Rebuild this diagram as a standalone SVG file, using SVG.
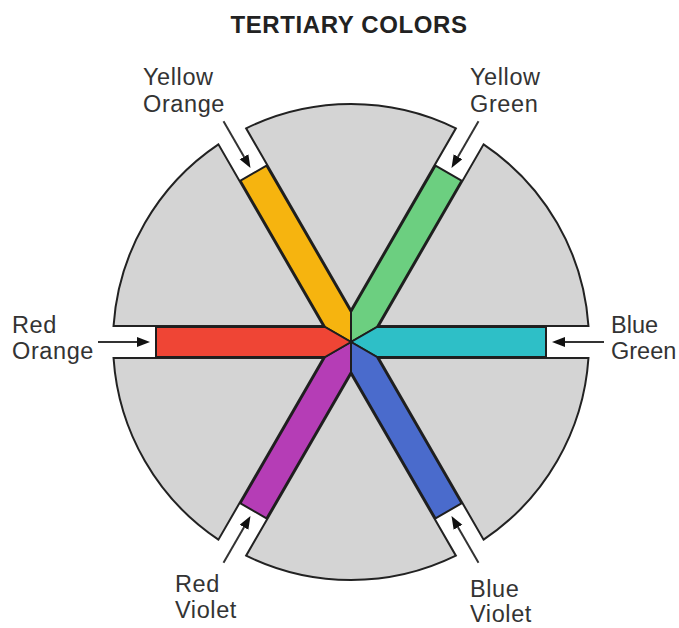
<svg xmlns="http://www.w3.org/2000/svg" width="679" height="628" viewBox="0 0 679 628">
<defs>
<style>
.sector{fill:#d4d4d4;stroke:#222;stroke-width:2;stroke-linejoin:miter}
.bar{stroke:#1e1e1e;stroke-width:2;stroke-linejoin:miter}
.arrow{stroke:#333;stroke-width:2;fill:none;marker-end:url(#ah)}
.lbl{font-family:"Liberation Sans",Arial,sans-serif;font-size:23.5px;letter-spacing:0.6px;fill:#333}
.title{font-family:"Liberation Sans",Arial,sans-serif;font-size:24px;letter-spacing:0.6px;font-weight:bold;fill:#222}
</style>
<marker id="ah" markerUnits="userSpaceOnUse" markerWidth="14" markerHeight="12" refX="0" refY="5" orient="auto">
<path d="M0,0 L13,5 L0,10 z" fill="#111"/>
</marker>
</defs>
<rect width="679" height="628" fill="#fff"/>
<text class="title" x="349" y="33" text-anchor="middle">TERTIARY COLORS</text>
<g id="wheel">
<path class="sector" d="M378.71,326 L588.46,326 A238,238 0 0 0 483.59,144.35 Z"/>
<path class="sector" d="M351,310 L455.87,128.35 A238,238 0 0 0 246.13,128.35 Z"/>
<path class="sector" d="M323.29,326 L218.41,144.35 A238,238 0 0 0 113.54,326 Z"/>
<path class="sector" d="M323.29,358 L113.54,358 A238,238 0 0 0 218.41,539.65 Z"/>
<path class="sector" d="M351,374 L246.13,555.65 A238,238 0 0 0 455.87,555.65 Z"/>
<path class="sector" d="M378.71,358 L483.59,539.65 A238,238 0 0 0 588.46,358 Z"/>
</g>
<g id="yellow-orange">
<polygon class="bar" fill="#f6b40f" points="351,342 351,312 266.49,165.63 240.51,180.63 325.02,327"/>
</g>
<g id="yellow-green">
<polygon class="bar" fill="#6ccf80" points="351,342 376.98,327 461.49,180.63 435.51,165.63 351,312"/>
</g>
<g id="blue-green">
<polygon class="bar" fill="#2ebfc7" points="351,342 377,357 546,357 546,327 377,327"/>
</g>
<g id="blue-violet">
<polygon class="bar" fill="#4a6bcc" points="351,342 351,372 435.51,518.37 461.49,503.37 376.98,357"/>
</g>
<g id="red-violet">
<polygon class="bar" fill="#b53db6" points="351,342 351,372 266.49,518.37 240.51,503.37 325.02,357"/>
</g>
<g id="red-orange">
<polygon class="bar" fill="#ef4535" points="351,342 325,357 156,357 156,327 325,327"/>
</g>
<g id="connectors">
<line class="arrow" x1="223.5" y1="121.2" x2="244" y2="156.7"/>
<line class="arrow" x1="478.5" y1="121.2" x2="458" y2="156.7"/>
<line class="arrow" x1="604" y1="342" x2="565" y2="342"/>
<line class="arrow" x1="98" y1="342" x2="137" y2="342"/>
<line class="arrow" x1="223.5" y1="562.8" x2="244" y2="527.3"/>
<line class="arrow" x1="478.5" y1="562.8" x2="458" y2="527.3"/>
</g>
<g id="label-yellow-orange">
<text class="lbl" x="143" y="85">Yellow</text>
<text class="lbl" x="143" y="112">Orange</text>
</g>
<g id="label-yellow-green">
<text class="lbl" x="470" y="85">Yellow</text>
<text class="lbl" x="470" y="112">Green</text>
</g>
<g id="label-red-orange">
<text class="lbl" x="12" y="333">Red</text>
<text class="lbl" x="12" y="359">Orange</text>
</g>
<g id="label-blue-green">
<text class="lbl" x="611" y="333" style="letter-spacing:0">Blue</text>
<text class="lbl" x="611" y="359" style="letter-spacing:0">Green</text>
</g>
<g id="label-red-violet">
<text class="lbl" x="175" y="592">Red</text>
<text class="lbl" x="175" y="618">Violet</text>
</g>
<g id="label-blue-violet">
<text class="lbl" x="470" y="597">Blue</text>
<text class="lbl" x="470" y="622">Violet</text>
</g>
</svg>
